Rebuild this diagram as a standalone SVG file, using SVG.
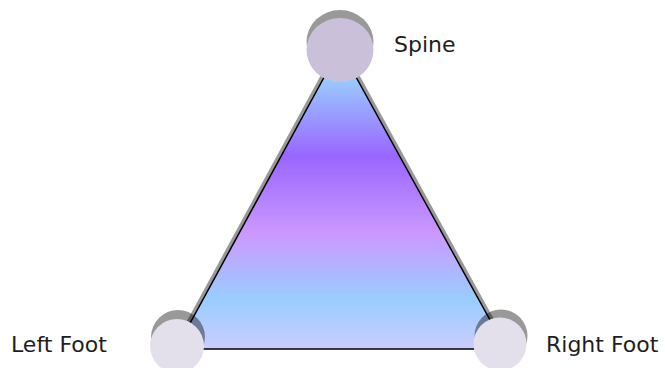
<svg xmlns="http://www.w3.org/2000/svg" width="665" height="368" viewBox="0 0 665 368">
  <defs>
    <linearGradient id="triFill" gradientUnits="userSpaceOnUse" x1="0" y1="48" x2="0" y2="349">
      <stop offset="0" stop-color="#a9d4ff"/>
      <stop offset="0.1" stop-color="#99ccff"/>
      <stop offset="0.36" stop-color="#9966ff"/>
      <stop offset="0.62" stop-color="#cc99ff"/>
      <stop offset="0.83" stop-color="#99ccff"/>
      <stop offset="1" stop-color="#ccccff"/>
    </linearGradient>
    <style>
      .shadow { fill: #000000; fill-opacity: 0.4; }
      .tri { fill: url(#triFill); stroke: #000000; stroke-width: 1.5; stroke-linejoin: miter; }
      .top { fill: #cbc0da; }
      .foot { fill: #e3dfeb; }
      .label { font-family: "DejaVu Sans", "Liberation Sans", sans-serif; font-size: 22px; fill: #1e1e1e; }
    </style>
  </defs>

  <g id="connectors">
    <polygon class="shadow" points="340,40 176,341 506,341"/>
    <polygon class="tri" points="340,48 176,349 506,349"/>
  </g>

  <g id="spine">
    <ellipse class="shadow" cx="340" cy="42" rx="33.5" ry="32"/>
    <ellipse class="top" cx="340" cy="50" rx="33.5" ry="32"/>
    <text class="label" x="394" y="52">Spine</text>
  </g>

  <g id="left-foot">
    <circle class="shadow" cx="178" cy="337" r="27"/>
    <circle class="foot" cx="177" cy="346" r="27"/>
    <text class="label" x="11" y="352">Left Foot</text>
  </g>

  <g id="right-foot">
    <circle class="shadow" cx="501" cy="336" r="26.5"/>
    <circle class="foot" cx="500" cy="344" r="26.5"/>
    <text class="label" x="546" y="352">Right Foot</text>
  </g>
</svg>
